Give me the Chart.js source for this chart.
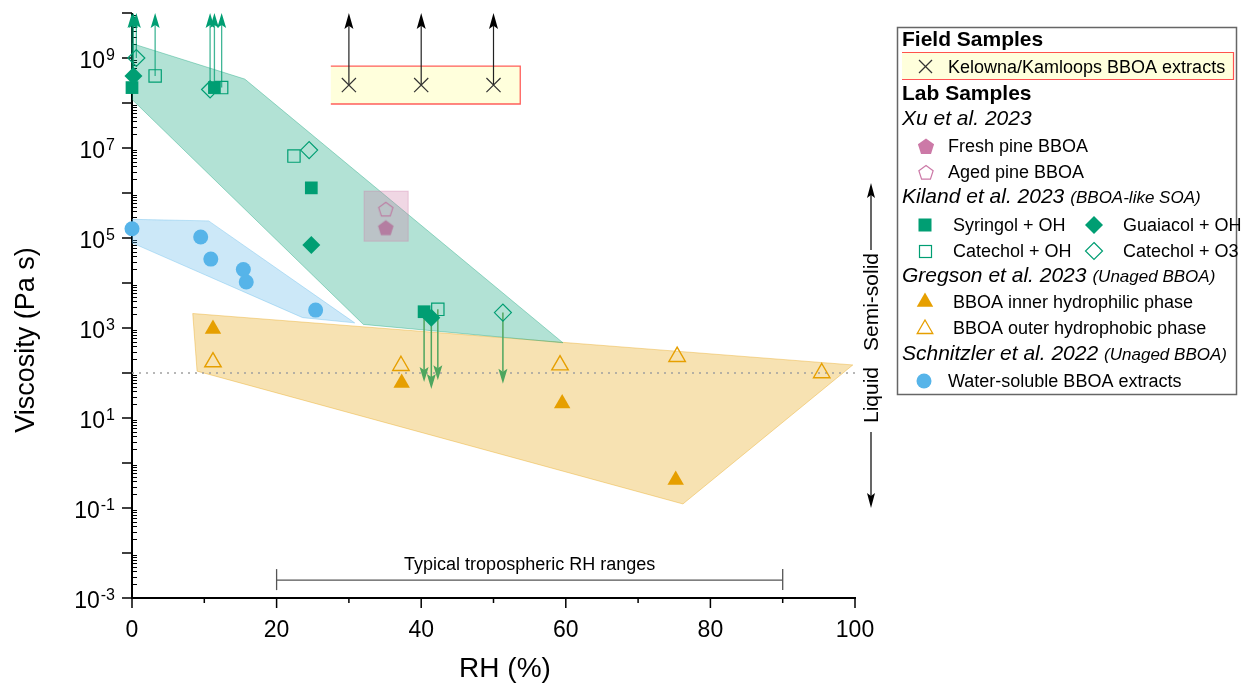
<!DOCTYPE html>
<html><head><meta charset="utf-8">
<script src="https://cdn.jsdelivr.net/npm/chart.js@4.4.1/dist/chart.umd.min.js"></script>
<style>html,body{margin:0;padding:0;background:#fff;}canvas{display:block;}</style>
</head><body>
<canvas id="c" width="1244" height="683"></canvas>
<script>
// ---------------- DATA ----------------
const xTicks = [0, 20, 40, 60, 80, 100];
const xMinorTicks = [10, 30, 50, 70, 90];
const yLabelExps = [-3, -1, 1, 3, 5, 7, 9];
const yDecadeExps = [-3, -2, -1, 0, 1, 2, 3, 4, 5, 6, 7, 8, 9, 10];

// Field samples (Kelowna/Kamloops) - lower limits (arrows up)
const kelownaRH = [30, 40, 50];
const kelownaVisc = [2.5e8, 2.5e8, 2.5e8];
const kelownaBoxRH = [27.5, 53.7];
const kelownaBoxVisc = [9.5e7, 6.6e8];

// Xu et al. 2023
const freshRH = [35.1];
const freshVisc = [1.7e5];
const agedRH = [35.1];
const agedVisc = [4.4e5];
const xuBoxRH = [32.1, 38.2];
const xuBoxVisc = [8.5e4, 1.1e6];

// Kiland et al. 2023  (arrow: 'up' = lower limit, 'down' = upper limit)
const syringolRH = [0.0, 11.4, 24.8, 40.4];
const syringolVisc = [2.2e8, 2.2e8, 1.3e6, 2.3e3];
const syringolArrow = ['up', 'up', null, 'down'];
const syringolArrowEnd = [null, null, null, 63];

const guaiacolRH = [0.2, 24.8, 41.4];
const guaiacolVisc = [4.0e8, 7.0e4, 1.7e3];
const guaiacolArrow = ['up', null, 'down'];
const guaiacolArrowEnd = [null, null, 44];

const catOHRH = [3.2, 12.4, 22.4, 42.3];
const catOHVisc = [4.0e8, 2.2e8, 6.6e6, 2.6e3];
const catOHArrow = ['up', 'up', null, 'down'];
const catOHArrowEnd = [null, null, null, 69];

const catO3RH = [0.6, 10.8, 24.5, 51.3];
const catO3Visc = [1.0e9, 2.0e8, 9.0e6, 2.2e3];
const catO3Arrow = ['up', 'up', null, 'down'];
const catO3ArrowEnd = [null, null, null, 58];

// Gregson et al. 2023
const innerRH = [11.2, 37.3, 59.5, 75.2];
const innerVisc = [950, 60, 21, 0.42];
const outerRH = [11.2, 37.2, 59.2, 75.4, 95.4];
const outerVisc = [175, 145, 150, 230, 100];

// Schnitzler et al. 2022
const wsRH = [0.0, 9.5, 10.9, 15.4, 15.8, 25.4];
const wsVisc = [1.6e5, 1.05e5, 3.4e4, 2.0e4, 1.05e4, 2.5e3];

// Shaded ranges (polygon vertices)
const greenPolyRH = [0, 15.6, 59.6, 32.0, 0, 0];
const greenPolyVisc = [2.1e9, 3.4e8, 470, 1.2e3, 1.2e8, 2.1e9];
const bluePolyRH = [0, 10.6, 30.8, 23.6, 0, 0];
const bluePolyVisc = [2.6e5, 2.4e5, 1.3e3, 1.7e3, 7.8e4, 2.6e5];
const orangePolyRH = [8.4, 99.7, 76.2, 9.0, 8.4];
const orangePolyVisc = [2.1e3, 151, 0.123, 110, 2.1e3];

// Liquid / semi-solid threshold
const thresholdRH = [0, 100];
const thresholdVisc = [100, 100];

// Typical tropospheric RH range
const tropRH = [20, 90];
const tropVisc = 2.5e-3;
const tropLabel = 'Typical tropospheric RH ranges';

// ---------------- STYLE ----------------
const GREEN = '#009e73', BLUE = '#56b4e9', ORANGE = '#e69f00', PINK = '#cc79a7';
const FONT = '"Liberation Sans", Arial, Helvetica, sans-serif';

function pts(xs, ys) { return xs.map((x, i) => ({ x: x, y: ys[i] })); }

function makePentagon(r, fill, stroke, lw) {
  const s = Math.ceil(2 * r + lw + 3);
  const c = document.createElement('canvas'); c.width = s; c.height = s;
  const g = c.getContext('2d');
  const cx = s / 2, cy = s / 2 + r * 0.1;
  g.beginPath();
  for (let k = 0; k < 5; k++) {
    const a = -Math.PI / 2 + k * 2 * Math.PI / 5;
    const px = cx + r * Math.cos(a), py = cy + r * Math.sin(a);
    if (k) g.lineTo(px, py); else g.moveTo(px, py);
  }
  g.closePath();
  if (fill) { g.fillStyle = fill; g.fill(); }
  if (stroke) { g.strokeStyle = stroke; g.lineWidth = lw; g.stroke(); }
  return c;
}
const pentFilledPlot = makePentagon(8.2, '#a9809f', null, 0);
const pentOpenPlot = makePentagon(7.5, null, '#b784a6', 1.2);

const P = (o) => Object.assign({ type: 'scatter', showLine: false, clip: false, borderWidth: 1.3 }, o);

const datasets = [
  P({ label: 'Kelowna/Kamloops BBOA extracts', data: pts(kelownaRH, kelownaVisc), pointStyle: 'crossRot', pointRadius: 10, pointHoverRadius: 10, borderColor: '#333', backgroundColor: 'transparent', borderWidth: 1.2 }),
  P({ label: 'Aged pine BBOA', data: pts(agedRH, agedVisc), pointStyle: pentOpenPlot }),
  P({ label: 'Fresh pine BBOA', data: pts(freshRH, freshVisc), pointStyle: pentFilledPlot }),
  P({ label: 'Catechol + O3', data: pts(catO3RH, catO3Visc), pointStyle: 'rectRot', pointRadius: 8.5, pointHoverRadius: 8.5, borderColor: GREEN, backgroundColor: 'transparent', borderWidth: 1.2 }),
  P({ label: 'Catechol + OH', data: pts(catOHRH, catOHVisc), pointStyle: 'rect', pointRadius: 8.7, pointHoverRadius: 8.7, borderColor: GREEN, backgroundColor: 'transparent', borderWidth: 1.2 }),
  P({ label: 'Guaiacol + OH', data: pts(guaiacolRH, guaiacolVisc), pointStyle: 'rectRot', pointRadius: 9, pointHoverRadius: 9, borderColor: GREEN, backgroundColor: GREEN, borderWidth: 0 }),
  P({ label: 'Syringol + OH', data: pts(syringolRH, syringolVisc), pointStyle: 'rect', pointRadius: 9, pointHoverRadius: 9, borderColor: GREEN, backgroundColor: GREEN, borderWidth: 0 }),
  P({ label: 'BBOA outer hydrophobic phase', data: pts(outerRH, outerVisc), pointStyle: 'triangle', pointRadius: 9.5, pointHoverRadius: 9.5, borderColor: ORANGE, backgroundColor: 'transparent', borderWidth: 1.4 }),
  P({ label: 'BBOA inner hydrophilic phase', data: pts(innerRH, innerVisc), pointStyle: 'triangle', pointRadius: 9.5, pointHoverRadius: 9.5, borderColor: ORANGE, backgroundColor: ORANGE, borderWidth: 0 }),
  P({ label: 'Water-soluble BBOA extracts', data: pts(wsRH, wsVisc), pointStyle: 'circle', pointRadius: 7.5, pointHoverRadius: 7.5, borderColor: BLUE, backgroundColor: BLUE, borderWidth: 0 }),
  { type: 'line', label: 'threshold', data: pts(thresholdRH, thresholdVisc), borderColor: '#a0a0a0', borderWidth: 1.6, borderDash: [2, 5], pointRadius: 0, fill: false },
  { type: 'line', label: 'Kiland range', data: pts(greenPolyRH, greenPolyVisc), borderColor: 'rgba(0,158,115,0.35)', backgroundColor: 'rgba(0,158,115,0.3)', borderWidth: 1, pointRadius: 0, fill: 'shape', tension: 0 },
  { type: 'line', label: 'Schnitzler range', data: pts(bluePolyRH, bluePolyVisc), borderColor: 'rgba(86,180,233,0.35)', backgroundColor: 'rgba(86,180,233,0.3)', borderWidth: 1, pointRadius: 0, fill: 'shape', tension: 0 },
  { type: 'line', label: 'Gregson range', data: pts(orangePolyRH, orangePolyVisc), borderColor: 'rgba(230,159,0,0.35)', backgroundColor: 'rgba(230,159,0,0.3)', borderWidth: 1, pointRadius: 0, fill: 'shape', tension: 0 }
];
const THRESH_INDEX = 10;

const arrowSeries = [
  { rh: syringolRH, v: syringolVisc, dir: syringolArrow, end: syringolArrowEnd },
  { rh: guaiacolRH, v: guaiacolVisc, dir: guaiacolArrow, end: guaiacolArrowEnd },
  { rh: catOHRH, v: catOHVisc, dir: catOHArrow, end: catOHArrowEnd },
  { rh: catO3RH, v: catO3Visc, dir: catO3Arrow, end: catO3ArrowEnd }
];

function drawArrow(ctx, x, y0, y1, headColor, lineColor, hw, hl, lw) {
  const d = Math.sign(y1 - y0);
  ctx.strokeStyle = lineColor; ctx.lineWidth = lw;
  ctx.beginPath(); ctx.moveTo(x, y0); ctx.lineTo(x, y1 - d * hl * 0.8); ctx.stroke();
  ctx.fillStyle = headColor;
  ctx.beginPath(); ctx.moveTo(x, y1);
  ctx.lineTo(x - hw / 2, y1 - d * hl);
  ctx.lineTo(x, y1 - d * hl * 0.8);
  ctx.lineTo(x + hw / 2, y1 - d * hl);
  ctx.closePath(); ctx.fill();
}

function line(ctx, x1, y1, x2, y2) { ctx.beginPath(); ctx.moveTo(x1, y1); ctx.lineTo(x2, y2); ctx.stroke(); }

function drawAxes(chart) {
  const { ctx, chartArea: a, scales: { x, y } } = chart;
  ctx.save();
  ctx.strokeStyle = '#000';
  ctx.lineWidth = 2;
  line(ctx, a.left, a.top, a.left, a.bottom + 1);
  line(ctx, a.left - 1, a.bottom, a.right + 1, a.bottom);
  ctx.lineWidth = 1.5;
  xTicks.forEach(v => { const px = x.getPixelForValue(v); line(ctx, px, a.bottom, px, a.bottom + 10); });
  xMinorTicks.forEach(v => { const px = x.getPixelForValue(v); line(ctx, px, a.bottom, px, a.bottom + 5); });
  yDecadeExps.forEach(e => { const py = y.getPixelForValue(Math.pow(10, e)); line(ctx, a.left - 10, py, a.left, py); });
  ctx.lineWidth = 1;
  for (let e = -3; e < 10; e++) {
    for (let m = 2; m <= 9; m++) {
      const py = Math.round(y.getPixelForValue(m * Math.pow(10, e))) + 0.5;
      line(ctx, a.left, py, a.left + 5, py);
    }
  }
  // tick labels
  ctx.fillStyle = '#000';
  ctx.font = '23px ' + FONT; ctx.textAlign = 'center'; ctx.textBaseline = 'alphabetic';
  xTicks.forEach(v => ctx.fillText(String(v), x.getPixelForValue(v), 637));
  yLabelExps.forEach(e => {
    const py = y.getPixelForValue(Math.pow(10, e));
    const expStr = e < 0 ? '-' + Math.abs(e) : String(e);
    ctx.font = '23px ' + FONT; const wb = ctx.measureText('10').width;
    ctx.font = '16px ' + FONT; const we = ctx.measureText(expStr).width;
    const x0 = 114 - wb - we;
    ctx.textAlign = 'left';
    ctx.font = '23px ' + FONT; ctx.fillText('10', x0, py + 10);
    ctx.font = '16px ' + FONT; ctx.fillText(expStr, x0 + wb + 1, py + 1.5);
  });
  // titles
  ctx.textAlign = 'center';
  ctx.font = '28px ' + FONT;
  ctx.fillText('RH (%)', 505, 677);
  ctx.save();
  ctx.translate(34, 340); ctx.rotate(-Math.PI / 2);
  ctx.font = '27px ' + FONT;
  ctx.fillText('Viscosity (Pa s)', 0, 0);
  ctx.restore();
  ctx.restore();
}

function drawKelownaBox(chart) {
  const { ctx, scales: { x, y } } = chart;
  const x1 = x.getPixelForValue(kelownaBoxRH[0]), x2 = x.getPixelForValue(kelownaBoxRH[1]);
  const y1 = y.getPixelForValue(kelownaBoxVisc[1]), y2 = y.getPixelForValue(kelownaBoxVisc[0]);
  ctx.save();
  ctx.fillStyle = '#ffffdc';
  ctx.fillRect(x1, y1, x2 - x1, y2 - y1);
  ctx.strokeStyle = 'rgba(255,40,40,0.75)'; ctx.lineWidth = 1.3;
  ctx.beginPath(); ctx.moveTo(x1, y1); ctx.lineTo(x2, y1); ctx.lineTo(x2, y2); ctx.lineTo(x1, y2); ctx.stroke();
  ctx.restore();
}

function drawArrows(chart) {
  const { ctx, chartArea: a, scales: { x, y } } = chart;
  ctx.save();
  arrowSeries.forEach(s => {
    s.rh.forEach((rh, i) => {
      if (!s.dir[i]) return;
      const px = x.getPixelForValue(rh), py = y.getPixelForValue(s.v[i]);
      if (s.dir[i] === 'up') {
        drawArrow(ctx, px, py, a.top, GREEN, 'rgba(0,158,115,0.75)', 9, 15, 1.3);
      } else {
        drawArrow(ctx, px, py, y.getPixelForValue(s.end[i]), '#4ea65e', '#4ea65e', 9, 15, 1.5);
      }
    });
  });
  kelownaRH.forEach((rh, i) => {
    const px = x.getPixelForValue(rh), py = y.getPixelForValue(kelownaVisc[i]);
    drawArrow(ctx, px, py, a.top, '#000', '#222', 9, 16, 1.2);
  });
  ctx.restore();
}

function drawXuBox(chart) {
  const { ctx, scales: { x, y } } = chart;
  const x1 = x.getPixelForValue(xuBoxRH[0]), x2 = x.getPixelForValue(xuBoxRH[1]);
  const y1 = y.getPixelForValue(xuBoxVisc[1]), y2 = y.getPixelForValue(xuBoxVisc[0]);
  ctx.save();
  ctx.fillStyle = 'rgba(204,121,167,0.3)';
  ctx.fillRect(x1, y1, x2 - x1, y2 - y1);
  ctx.strokeStyle = 'rgba(204,121,167,0.35)'; ctx.lineWidth = 1;
  ctx.strokeRect(x1, y1, x2 - x1, y2 - y1);
  ctx.restore();
}

function drawTrop(chart) {
  const { ctx, scales: { x, y } } = chart;
  const x1 = x.getPixelForValue(tropRH[0]), x2 = x.getPixelForValue(tropRH[1]);
  const py = y.getPixelForValue(tropVisc);
  ctx.save();
  ctx.strokeStyle = '#555'; ctx.lineWidth = 1.3;
  line(ctx, x1, py, x2, py);
  line(ctx, x1, py - 11, x1, py + 10);
  line(ctx, x2, py - 11, x2, py + 10);
  ctx.fillStyle = '#000'; ctx.font = '18px ' + FONT; ctx.textAlign = 'center';
  ctx.fillText(tropLabel, (x1 + x2) / 2, py - 10);
  ctx.restore();
}

function drawPhase(chart) {
  const ctx = chart.ctx;
  ctx.save();
  ctx.strokeStyle = '#000'; ctx.fillStyle = '#000';
  drawArrow(ctx, 871, 250, 183, '#000', '#000', 8, 15, 1.2);
  drawArrow(ctx, 871, 432, 508, '#000', '#000', 8, 15, 1.2);
  ctx.font = '21px ' + FONT; ctx.textAlign = 'center';
  ctx.save(); ctx.translate(878, 302); ctx.rotate(-Math.PI / 2); ctx.fillText('Semi-solid', 0, 0); ctx.restore();
  ctx.save(); ctx.translate(878, 395); ctx.rotate(-Math.PI / 2); ctx.fillText('Liquid', 0, 0); ctx.restore();
  ctx.restore();
}

// legend marker helpers
function mSquare(ctx, cx, cy, h, fill, stroke) {
  if (fill) { ctx.fillStyle = fill; ctx.fillRect(cx - h, cy - h, 2 * h, 2 * h); }
  if (stroke) { ctx.strokeStyle = stroke; ctx.lineWidth = 1.2; ctx.strokeRect(cx - h, cy - h, 2 * h, 2 * h); }
}
function mPath(ctx, ptsArr, fill, stroke, lw) {
  ctx.beginPath(); ptsArr.forEach((p, i) => i ? ctx.lineTo(p[0], p[1]) : ctx.moveTo(p[0], p[1])); ctx.closePath();
  if (fill) { ctx.fillStyle = fill; ctx.fill(); }
  if (stroke) { ctx.strokeStyle = stroke; ctx.lineWidth = lw || 1.2; ctx.stroke(); }
}
function diamond(cx, cy, r) { return [[cx, cy - r], [cx + r, cy], [cx, cy + r], [cx - r, cy]]; }
function tri(cx, cy, r) { return [[cx, cy - r], [cx + r * 0.866, cy + r / 2], [cx - r * 0.866, cy + r / 2]]; }
function pent(cx, cy, r) { const a = []; for (let k = 0; k < 5; k++) { const t = -Math.PI / 2 + k * 2 * Math.PI / 5; a.push([cx + r * Math.cos(t), cy + r * Math.sin(t)]); } return a; }

function drawLegend(chart) {
  const ctx = chart.ctx;
  ctx.save();
  ctx.fillStyle = '#fff'; ctx.fillRect(897, 27, 340, 368);
  ctx.strokeStyle = '#666'; ctx.lineWidth = 1.5; ctx.strokeRect(897.5, 27.5, 339, 367);
  // highlighted row
  ctx.fillStyle = '#ffffdc'; ctx.fillRect(902, 52, 331, 27);
  ctx.strokeStyle = 'rgba(255,40,40,0.8)'; ctx.lineWidth = 1.2;
  ctx.beginPath(); ctx.moveTo(902, 52.5); ctx.lineTo(1233.5, 52.5); ctx.lineTo(1233.5, 79.5); ctx.lineTo(902, 79.5); ctx.stroke();
  ctx.fillStyle = '#000'; ctx.textAlign = 'left'; ctx.textBaseline = 'alphabetic';
  const T = (s, x, y, f) => { ctx.font = f; ctx.fillText(s, x, y); return ctx.measureText(s).width; };
  const B = 'bold 21px ' + FONT, I = 'italic 21px ' + FONT, S = 'italic 17px ' + FONT, N = '18px ' + FONT;
  T('Field Samples', 902, 46, B);
  ctx.strokeStyle = '#333'; ctx.lineWidth = 1.2;
  line(ctx, 919, 60, 932, 73); line(ctx, 932, 60, 919, 73);
  ctx.fillStyle = '#000';
  T('Kelowna/Kamloops BBOA extracts', 948, 73, N);
  T('Lab Samples', 902, 100, B);
  T('Xu et al. 2023', 902, 125, I);
  mPath(ctx, pent(926, 147, 8.5), PINK, null);
  ctx.fillStyle = '#000'; T('Fresh pine BBOA', 948, 152, N);
  mPath(ctx, pent(926, 173, 7.5), null, PINK, 1.2);
  ctx.fillStyle = '#000'; T('Aged pine BBOA', 948, 178, N);
  let w = T('Kiland et al. 2023', 902, 203, I);
  T('(BBOA-like SOA)', 902 + w + 6, 203, S);
  mSquare(ctx, 925, 225, 6.5, GREEN, null);
  ctx.fillStyle = '#000'; T('Syringol + OH', 953, 231, N);
  mPath(ctx, diamond(1094, 225, 9), GREEN, null);
  ctx.fillStyle = '#000'; T('Guaiacol + OH', 1123, 231, N);
  mSquare(ctx, 925.5, 251.5, 6, null, GREEN);
  ctx.fillStyle = '#000'; T('Catechol + OH', 953, 257, N);
  mPath(ctx, diamond(1094, 251, 8.5), null, GREEN, 1.2);
  ctx.fillStyle = '#000'; T('Catechol + O3', 1123, 257, N);
  w = T('Gregson et al. 2023', 902, 282, I);
  T('(Unaged BBOA)', 902 + w + 6, 282, S);
  mPath(ctx, tri(925, 302, 9.5), ORANGE, null);
  ctx.fillStyle = '#000'; T('BBOA inner hydrophilic phase', 953, 308, N);
  mPath(ctx, tri(925, 329, 9), null, ORANGE, 1.3);
  ctx.fillStyle = '#000'; T('BBOA outer hydrophobic phase', 953, 334, N);
  w = T('Schnitzler et al. 2022', 902, 360, I);
  T('(Unaged BBOA)', 902 + w + 6, 360, S);
  ctx.fillStyle = BLUE; ctx.beginPath(); ctx.arc(924, 381, 7.5, 0, 2 * Math.PI); ctx.fill();
  ctx.fillStyle = '#000'; T('Water-soluble BBOA extracts', 948, 387, N);
  ctx.restore();
}

const custom = {
  id: 'custom',
  beforeDatasetsDraw(chart) { drawAxes(chart); },
  afterDatasetDraw(chart, args) { if (args.index === THRESH_INDEX) { drawKelownaBox(chart); drawArrows(chart); } },
  afterDatasetsDraw(chart) { drawXuBox(chart); drawTrop(chart); },
  afterDraw(chart) { drawLegend(chart); drawPhase(chart); }
};

new Chart(document.getElementById('c'), {
  type: 'scatter',
  data: { datasets: datasets },
  options: {
    responsive: false,
    animation: false,
    events: [],
    layout: { padding: { left: 0, top: 13, right: 389, bottom: 0 } },
    plugins: { legend: { display: false }, tooltip: { enabled: false } },
    scales: {
      x: { type: 'linear', min: 0, max: 100, grid: { display: false }, border: { display: false }, ticks: { display: false }, afterFit(s) { s.height = 85; } },
      y: { type: 'logarithmic', min: 1e-3, max: 1e10, grid: { display: false }, border: { display: false }, ticks: { display: false }, afterFit(s) { s.width = 132; } }
    }
  },
  plugins: [custom]
});
</script>
</body></html>
